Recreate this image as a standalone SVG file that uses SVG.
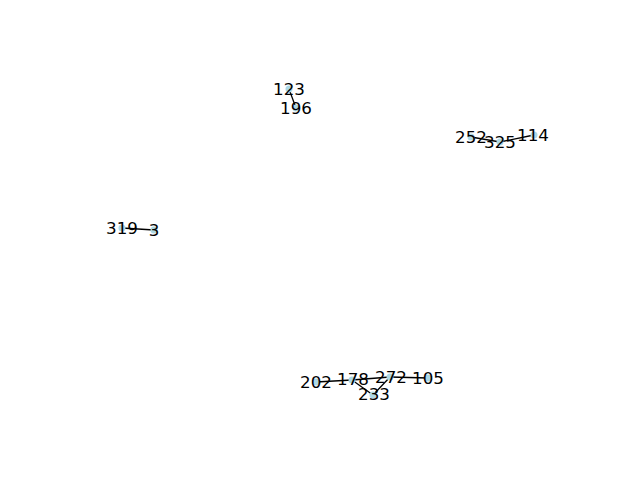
<svg xmlns="http://www.w3.org/2000/svg" width="640" height="480" viewBox="0 0 640 480">
<style>
.e{stroke:#000;stroke-width:1.3;fill:none}
.n circle{fill:#add8e6}
.n text{font-family:"DejaVu Sans",sans-serif;font-size:16.7px;fill:#000;text-anchor:middle;dominant-baseline:central}
</style>
<rect width="640" height="480" fill="#fff"/>
<g id="edges">
<line class="e" x1="289" y1="89" x2="296" y2="108"/>
<line class="e" x1="471" y1="137" x2="500" y2="142"/>
<line class="e" x1="500" y1="142" x2="534" y2="135"/>
<line class="e" x1="122" y1="228" x2="154" y2="230"/>
<line class="e" x1="316" y1="382" x2="352" y2="380"/>
<line class="e" x1="352" y1="380" x2="390" y2="377"/>
<line class="e" x1="390" y1="377" x2="428" y2="378"/>
<line class="e" x1="352" y1="380" x2="373" y2="395"/>
<line class="e" x1="373" y1="395" x2="390" y2="377"/>
</g>
<g id="n123" class="n"><circle cx="289" cy="89" r="3.5"/><text x="289" y="89">123</text></g>
<g id="n196" class="n"><circle cx="296" cy="108" r="3.5"/><text x="296" y="108">196</text></g>
<g id="n252" class="n"><circle cx="471" cy="137" r="3.5"/><text x="471" y="137">252</text></g>
<g id="n325" class="n"><circle cx="500" cy="142" r="3.5"/><text x="500" y="142">325</text></g>
<g id="n114" class="n"><circle cx="534" cy="135" r="3.5"/><text x="533" y="135">114</text></g>
<g id="n319" class="n"><circle cx="122" cy="228" r="3.5"/><text x="122" y="228">319</text></g>
<g id="n3" class="n"><circle cx="154" cy="230" r="3.5"/><text x="154" y="230">3</text></g>
<g id="n202" class="n"><circle cx="316" cy="382" r="3.5"/><text x="316" y="382">202</text></g>
<g id="n178" class="n"><circle cx="352" cy="380" r="3.5"/><text x="353" y="379">178</text></g>
<g id="n272" class="n"><circle cx="390" cy="377" r="3.5"/><text x="391" y="377">272</text></g>
<g id="n105" class="n"><circle cx="428" cy="378" r="3.5"/><text x="428" y="378">105</text></g>
<g id="n233" class="n"><circle cx="373" cy="395" r="3.5"/><text x="374" y="394">233</text></g>
</svg>
